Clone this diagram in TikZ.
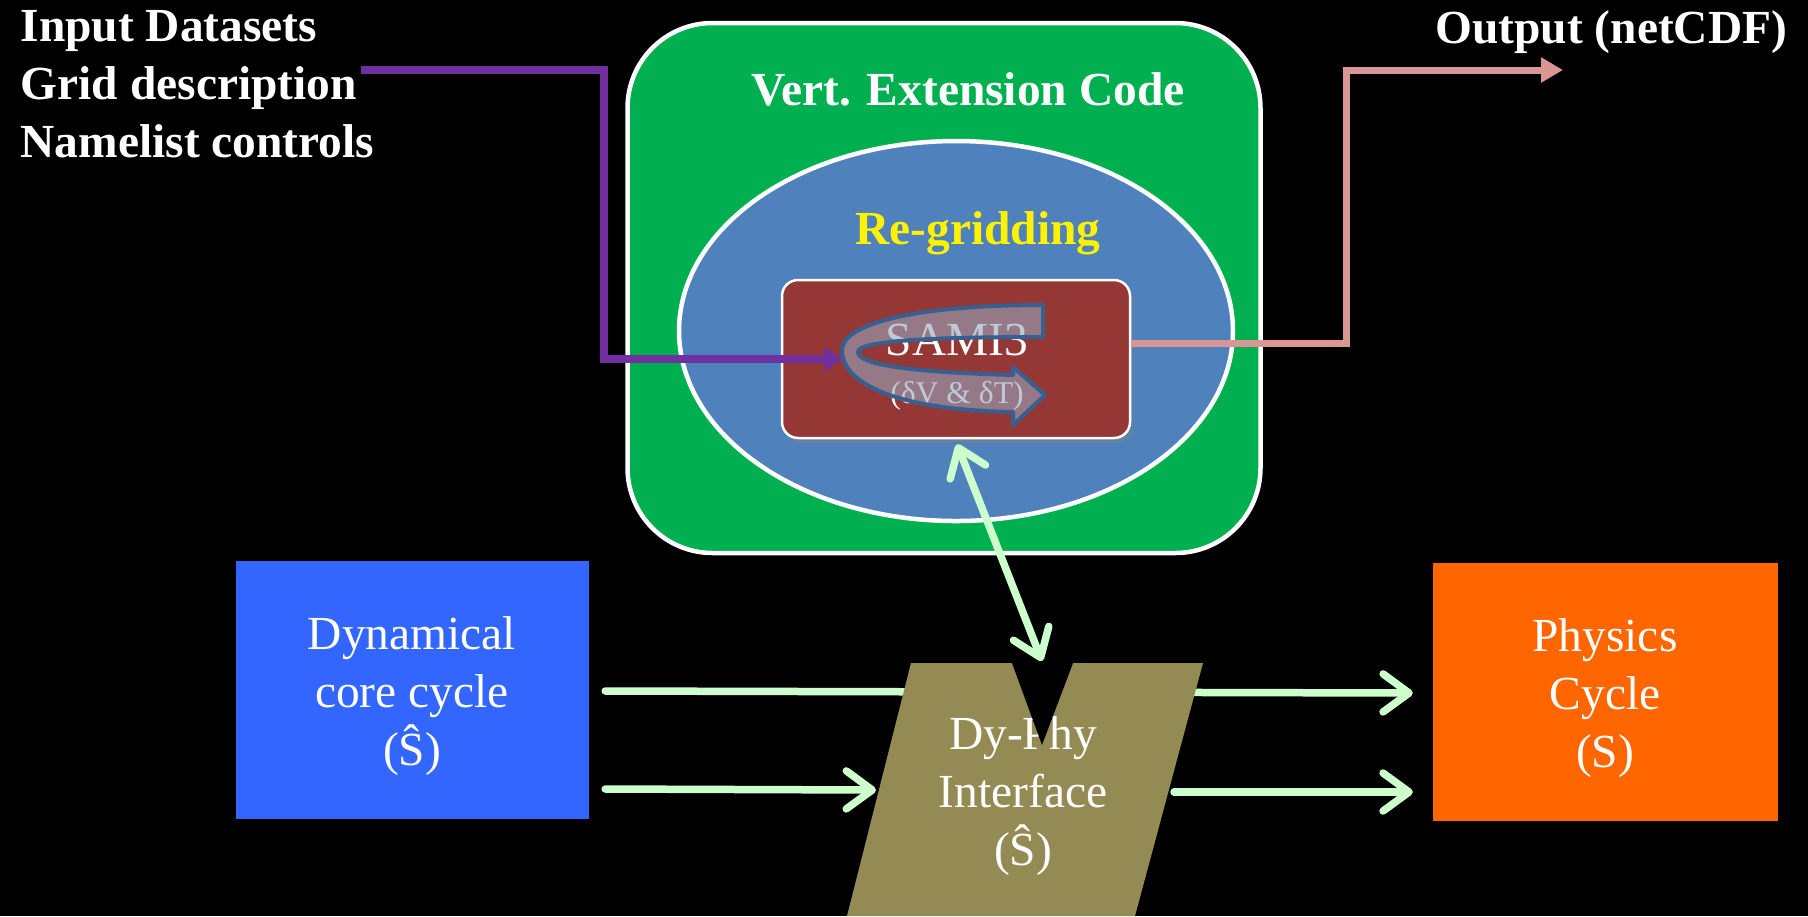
\documentclass[tikz,border=0pt]{standalone}
\usepackage{fontspec}
\setmainfont{Liberation Serif}
\usetikzlibrary{positioning,arrows.meta,shapes.geometric,shadows}

\definecolor{vextgreen}{HTML}{00B050}
\definecolor{regridblue}{HTML}{4F81BD}
\definecolor{samired}{HTML}{953735}
\definecolor{dynblue}{HTML}{3366FF}
\definecolor{physorange}{HTML}{FF6600}
\definecolor{ifaceolive}{HTML}{948A54}
\definecolor{flowgreen}{HTML}{CCFFCC}
\definecolor{inpurple}{HTML}{7030A0}
\definecolor{outpink}{HTML}{D99694}
\definecolor{ribbonedge}{HTML}{376092}
\definecolor{ribbonfill}{RGB}{150,165,190}

\begin{document}
\begin{tikzpicture}[
        x=0.1mm, y=-0.1mm,
        font=\fontsize{13.5}{16.5}\selectfont,
        heading/.style={
            text = white, inner sep = 0pt, font = \fontsize{13.5}{16.5}\selectfont\bfseries
        },
        vextbox/.style={
            rectangle, fill = vextgreen, draw = white, line width = 0.45mm,
            rounded corners = 8.5mm, minimum width = 63.3mm, minimum height = 53mm
        },
        regridbox/.style={
            ellipse, fill = regridblue, draw = white, line width = 0.45mm, inner sep = 0pt,
            minimum width = 55.4mm, minimum height = 38mm
        },
        samibox/.style={
            rectangle, fill = samired, draw = white, line width = 0.25mm, rounded corners = 1.6mm,
            minimum width = 34.8mm, minimum height = 15.8mm,
            drop shadow = {shadow xshift = 0.3mm, shadow yshift = -0.5mm, opacity = 0.45}
        },
        cyclebox/.style={
            rectangle, minimum height = 25.8mm
        },
        boxtext/.style={
            text = white, align = center, yshift = -0.6mm
        },
        barb/.tip = {Straight Barb[length = 2.6mm, width = 3.8mm, round]},
        flow/.style={
            draw = flowgreen, line width = 0.75mm, line cap = round, -barb
        },
        ribbon/.style={
            fill = ribbonfill, fill opacity = 0.6, draw = ribbonedge, line width = 0.4mm, line join = round
        },
    ]
    \useasboundingbox (0,0) rectangle (1808,916);
    \fill[black] (0,0) rectangle (1808,916);

    % model block with the re-gridding step inside
    \node (vext) [vextbox] at (944,288) {};
    \node (vextTitle) [heading] at (968,89) {Vert. Extension Code};
    \node (regrid) [regridbox] at (956,331) {};
    \node (regridTitle) [heading, text = yellow] at (978,233) {Re-gridding};
    \node (sami) [samibox] at (956,359) {};
    \node (samiText) [text = white, align = center, inner sep = 0pt] at (957,367)
        {SAMI3\\[-3pt]{\fontsize{9}{11}\selectfont(δV \& δT)}};

    % turning arrow over the SAMI3 box
    \draw[ribbon] (1043,305) .. controls (910,305) and (842,325) .. (842,350)
        .. controls (842,385) and (900,410) .. (1013,412)
        -- (1013,425) -- (1045,395) -- (1013,367) -- (1013,375)
        .. controls (905,372) and (858,364) .. (858,352)
        .. controls (858,342) and (915,337) .. (1043,337) -- cycle;

    % inputs and output
    \node (inputs) [heading, align = left, anchor = north west] at (20,10)
        {Input Datasets\\Grid description\\Namelist controls};
    \node (output) [heading, anchor = north east] at (1788,10) {Output (netCDF)};

    \coordinate (gridEnd) at (361,70);
    \coordinate (inBend) at (604,359);
    \coordinate (samiIn) at (842,359);
    \draw[inpurple, line width = 0.75mm, -{Triangle[length = 1.8mm, width = 2.4mm]}]
        (gridEnd) -| (inBend) -- (samiIn);

    \coordinate (outBend) at (1346,70);
    \coordinate (outTip) at (1563,70);
    \draw[outpink, line width = 0.7mm, -{Triangle[length = 2.2mm, width = 2.4mm]}]
        ([shift={(0,-16)}]sami.east) -| (outBend) -- (outTip);

    % dynamics and physics cycles
    \node (dyn) [cyclebox, fill = dynblue, minimum width = 35.3mm,
        label = {[boxtext]center:Dynamical\\core cycle\\(Ŝ)}] at (412,690) {};
    \node (phys) [cyclebox, fill = physorange, minimum width = 34.5mm,
        label = {[boxtext]center:Physics\\Cycle\\(S)}] at (1605,692) {};

    \draw[flow] ([shift={(16,1)}]dyn.east) -- ([shift={(-19,1)}]phys.west);

    % coupling interface
    \coordinate (ifTL) at (911,663);
    \coordinate (ifTR) at (1203,663);
    \coordinate (ifBR) at (1135,916);
    \coordinate (ifBL) at (847,916);
    \fill[ifaceolive] (ifTL) -- (ifTR) -- (ifBR) -- (ifBL) -- cycle;
    \node (iface) [text = white, align = center] at (1023,796) {Dy-Phy\\Interface\\(Ŝ)};
    \coordinate (notch) at (1042,663);
    \fill[black] (1012,663) -- (1073,663) -- (1042,745) -- cycle;

    \coordinate (ifIn) at (876,790);
    \coordinate (ifOut) at (1174,792);
    \draw[flow] ([shift={(16,99)}]dyn.east) -- (ifIn);
    \draw[flow] (ifOut) -- ([shift={(-19,100)}]phys.west);
    \draw[flow, barb-barb] ([shift={(1,5)}]sami.south) -- ([shift={(0,-2)}]notch);
\end{tikzpicture}
\end{document}
